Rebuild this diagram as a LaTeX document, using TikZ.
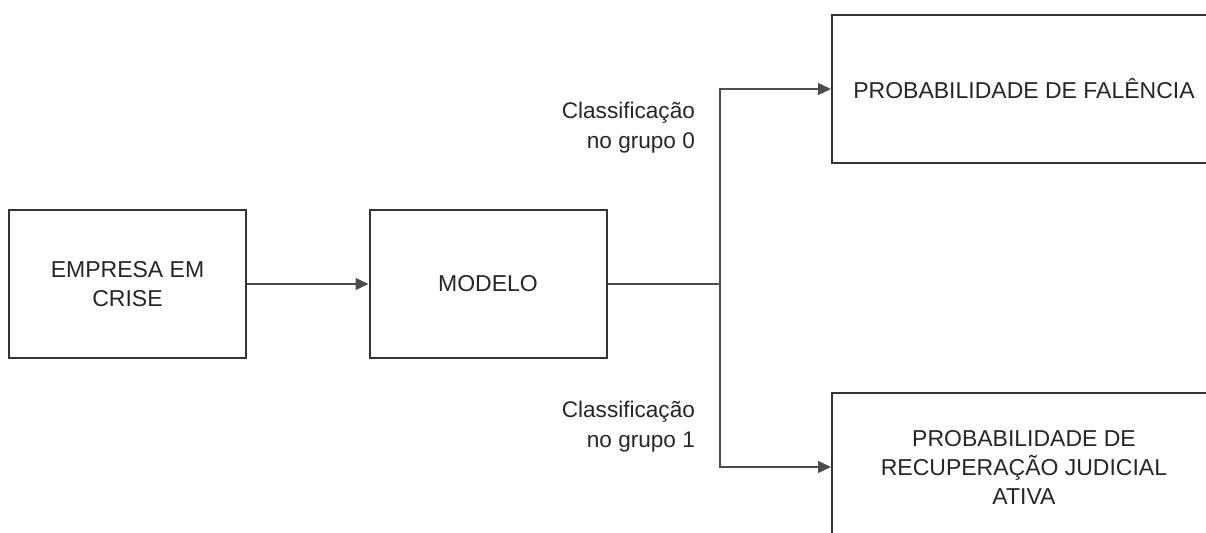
\documentclass[tikz,border=0pt]{standalone}
\usepackage{fontspec}
\setmainfont{Liberation Sans}
\usetikzlibrary{arrows.meta, calc}
\colorlet{boxline}{black!80}
\colorlet{wireline}{black!70}
\colorlet{labeltext}{black!85}
\tikzstyle{block}=[rectangle, draw=boxline, line width=1pt, text=labeltext, align=center, minimum width=118.5pt, minimum height=74pt, font=\fontsize{11.5}{14.5}\selectfont]
\tikzstyle{wideblock}=[block, minimum width=192pt]
\tikzstyle{link}=[draw=wireline, line width=0.7pt]
\tikzstyle{wire}=[link, -{Triangle[length=6.5pt, width=6pt]}]
\tikzstyle{classlabel}=[align=right, anchor=east, text=labeltext, font=\fontsize{11.3}{15}\selectfont]

\begin{document}
\begin{tikzpicture}[x=0.5pt, y=-0.5pt]
	\clip (0,0) rectangle (1206,533);

	% Blocos do fluxo
	\node[block] (empresa) at (127.5,284) {EMPRESA EM\\CRISE};
	\node[block] (modelo) at (488,284) {MODELO};
	\node[wideblock] (falencia) at (1024,89) {PROBABILIDADE DE FALÊNCIA};
	\node[wideblock] (recuperacao) at (1024,467) {PROBABILIDADE DE\\RECUPERAÇÃO JUDICIAL\\ATIVA};

	% Ligacoes
	\coordinate (split) at (720,284);
	\draw[wire] (empresa) -- (modelo);
	\draw[link] (modelo) -- (split);
	\draw[wire] (split) |- (falencia);
	\draw[wire] (split) |- (recuperacao);

	% Rotulos das classes
	\node[classlabel] (grupo0) at (702,128) {Classificação\\no grupo 0};
	\node[classlabel] (grupo1) at (702,427) {Classificação\\no grupo 1};
\end{tikzpicture}
\end{document}
